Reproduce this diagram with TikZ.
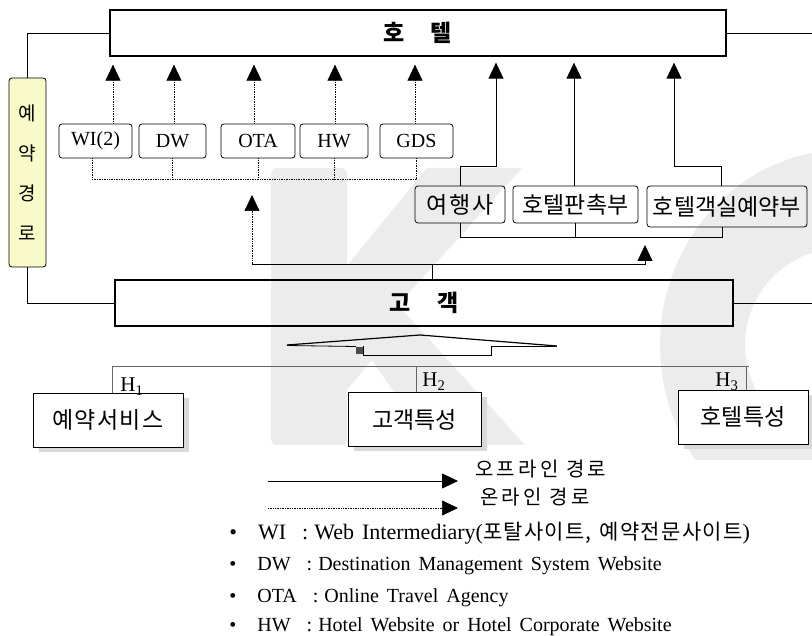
\documentclass[tikz,border=0pt]{standalone}
\usepackage{fontspec}
\setmainfont{Liberation Serif}
\newfontfamily\kr{Noto Sans CJK KR}
\usetikzlibrary{arrows.meta,positioning,shadows}
\definecolor{routefill}{HTML}{F8FAC8}
\definecolor{markgray}{gray}{0.925}
\newcommand\krsmall{\kr\fontsize{21}{22}\selectfont\addfontfeature{LetterSpace=6}}
\newcommand\krlegend{\kr\fontsize{20}{22}\selectfont\addfontfeature{LetterSpace=16}}
\newcommand\notehead[1]{\spaceskip=8pt\relax•\hspace{21pt}#1\hspace{16pt}:\hspace{6pt}}

\begin{document}
\begin{tikzpicture}[x=1pt,y=-1pt,line width=0.8pt,
  tip/.style={-{Triangle[length=16pt,width=15pt]}},
  online/.style={tip,densely dotted,line width=0.7pt},
  offline/.style={tip,line width=0.8pt},
  dotline/.style={densely dotted,line width=0.7pt},
  mainbox/.style={draw,line width=1.3pt,minimum height=46pt,font=\kr\bfseries\fontsize{23}{26}\selectfont},
  webbox/.style={draw,rounded corners=3pt,minimum height=34pt,font=\fontsize{20}{22}\selectfont},
  agentbox/.style={draw,rounded corners=3pt,font=\kr\fontsize{23}{26}\selectfont},
  factorbox/.style={draw,fill=white,minimum height=54pt,font=\kr\fontsize{23}{26}\selectfont,
    drop shadow={shadow xshift=6pt,shadow yshift=-5pt,fill=black!15,opacity=1}},
  hline/.style={black!60},
  hlabel/.style={anchor=base west,inner sep=0pt,font=\fontsize{21}{24}\selectfont},
  note/.style={anchor=base west,inner sep=0pt,font=\fontsize{20}{24}\selectfont},
]
\useasboundingbox (0,0) rectangle (812,636);

% faint logo behind everything
\begin{scope}
  \clip (0,0) rectangle (812,460);
  \fill[markgray,rounded corners=6pt] (271,168) rectangle (347,445);
  \fill[markgray] (345,268) -- (427,168) -- (522,168) -- (398,305) -- (525,445)
    -- (430,445) -- (372,360) -- (345,392) -- cycle;
  \fill[markgray,even odd rule] (845,345) ellipse [x radius=185,y radius=195]
    (842,345) circle [radius=97];
\end{scope}

\node[mainbox,minimum width=616pt] (hotel) at (418,33) {호\hspace{26pt}텔};
\node[mainbox,minimum width=618pt] (cust) at (424,303) {고\hspace{27pt}객};
\node[draw,rounded corners=3pt,fill=routefill,minimum width=37pt,minimum height=189pt,
  align=center,font=\kr\fontsize{19}{40}\selectfont] (route) at (27.5,172.5) {예\\약\\경\\로};

\node[webbox,minimum width=73pt] (wi) at (95.5,141) {WI(2)};
\node[webbox,minimum width=67pt] (dw) at (172.5,141) {DW};
\node[webbox,minimum width=74pt] (ota) at (258,141) {OTA};
\node[webbox,minimum width=68pt] (hw) at (334,141) {HW};
\node[webbox,minimum width=73pt] (gds) at (416.5,141) {GDS};

\node[agentbox,minimum width=90pt,minimum height=37pt] (agency) at (460,204.5) {\addfontfeature{LetterSpace=8}여행사};
\node[agentbox,minimum width=125pt,minimum height=37pt] (sales) at (575.5,204.5) {호텔판촉부};
\node[agentbox,minimum width=160pt,minimum height=41pt] (rooms) at (727,206.5) {호텔객실예약부};

\coordinate (rightend) at (812,0);
\coordinate (webbus) at (0,179);
\coordinate (upbus) at (0,166);
\coordinate (agentbus) at (0,237);
\coordinate (custbus) at (0,264);
\coordinate (hbus) at (0,366);

\draw (hotel.west) -| (route.north);
\draw (route.south) |- (cust.west);
\draw (hotel.east) -- (hotel.east -| rightend);
\draw (cust.east) -- (cust.east -| rightend);

% online channels
\draw[online,shorten >=8pt] ([xshift=17.5pt]wi.north) -- ([xshift=17.5pt]wi.north |- hotel.south);
\foreach \b/\dx in {dw/1.5,ota/-4,hw/1,gds/-1.5}
  \draw[online,shorten >=8pt] ([xshift=\dx pt]\b.north) -- ([xshift=\dx pt]\b.north |- hotel.south);
\draw[dotline] ([xshift=-3.5pt]wi.south) |- (gds.south |- webbus) -- (gds.south);
\foreach \b in {dw,ota,hw}
  \draw[dotline] (\b.south) -- (\b.south |- webbus);
\draw[online,shorten >=16pt] ([xshift=-6pt]ota.south |- custbus) -- ([xshift=-6pt]ota.south |- webbus);

% offline channels
\draw[offline,shorten >=6pt] (agency.north) |- ([xshift=36pt]agency.north |- upbus)
  -- ([xshift=36pt]agency.north |- hotel.south);
\draw[offline,shorten >=6pt] ([xshift=-1.5pt]sales.north) -- ([xshift=-1.5pt]sales.north |- hotel.south);
\draw[offline,shorten >=6pt] ([xshift=-6pt]rooms.north) |- ([xshift=-53pt]rooms.north |- upbus)
  -- ([xshift=-53pt]rooms.north |- hotel.south);
\draw (agency.south) |- ([xshift=-5pt]rooms.south |- agentbus) -- ([xshift=-5pt]rooms.south);
\draw (sales.south) -- (sales.south |- agentbus);

\draw ([xshift=8pt]cust.north) -- ([xshift=8pt]cust.north |- custbus);
\draw[offline,shorten >=8pt] ([xshift=-6pt]ota.south |- custbus) -| ([xshift=-82pt]rooms.south |- agentbus);

% bracket under the customer box
\draw[line width=1.2pt] (287,345) -- (420,335) -- (557,346);
\draw (287,345.5) -- (356,346.5);
\fill[black!70] (356,347) rectangle (363,354);
\draw (363,346.5) -- (363,355) -- (491,355) -- (491,346.5) -- (557,346.5);

\node[factorbox,minimum width=150pt] (service) at (108,420) {\addfontfeature{LetterSpace=6}예약서비스};
\node[factorbox,minimum width=133pt] (custtrait) at (414.5,419.5) {고객특성};
\node[factorbox,minimum width=130pt] (hoteltrait) at (743,417) {호텔특성};

\draw[hline] ([xshift=4pt]service.north) |- ([xshift=6pt]hoteltrait.north |- hbus);
\draw[hline] ([xshift=1.5pt]custtrait.north) -- ([xshift=1.5pt]custtrait.north |- hbus);
\draw[hline] ([xshift=3pt]hoteltrait.north) -- ([xshift=3pt]hoteltrait.north |- hbus);
\node[hlabel] (h1) at (120,392) {H\textsubscript{1}};
\node[hlabel] (h2) at (422,387) {H\textsubscript{2}};
\node[hlabel] (h3) at (715,387) {H\textsubscript{3}};

% legend
\coordinate (offstart) at (268,481);
\coordinate (offend) at (458,481);
\coordinate (onstart) at (268,508);
\coordinate (onend) at (458,508);
\draw[offline] (offstart) -- (offend);
\draw[online] (onstart) -- (onend);
\node[anchor=west,inner sep=0pt,font=\krlegend] (offtext) at (475,469) {오프라인 경로};
\node[anchor=west,inner sep=0pt,font=\krlegend] (ontext) at (480,497) {온라인 경로};

\node[note,font=\fontsize{22}{24}\selectfont] (note1) at (229,539)
  {\notehead{WI}Web Intermediary({\krsmall 포탈사이트, 예약전문사이트})};
\node[note] (note2) at (229,570) {\notehead{DW}Destination Management System Website};
\node[note] (note3) at (229,602) {\notehead{OTA}Online Travel Agency};
\node[note] (note4) at (229,631) {\notehead{HW}Hotel Website or Hotel Corporate Website};
\end{tikzpicture}
\end{document}
